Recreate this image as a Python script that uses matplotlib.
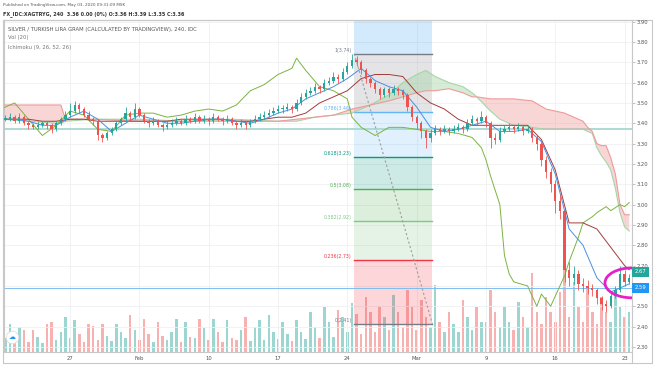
import numpy as np
import matplotlib.pyplot as plt
from matplotlib.patches import Arc, Rectangle
from matplotlib.lines import Line2D
from matplotlib.transforms import blended_transform_factory

# bars sampled 3 per trading day, Jan 20 .. Mar 23 2020 (bar index = time axis)
closes = [3.42, 3.42, 3.43, 3.41, 3.43, 3.40, 3.39, 3.38, 3.39, 3.40, 3.39, 3.37, 3.40, 3.42, 3.44,
          3.46, 3.49, 3.47, 3.44, 3.42, 3.41, 3.34, 3.33, 3.35, 3.37, 3.40, 3.42, 3.45, 3.43, 3.47,
          3.44, 3.41, 3.40, 3.41, 3.39, 3.38, 3.39, 3.40, 3.41, 3.40, 3.42, 3.41, 3.43, 3.41, 3.42,
          3.41, 3.43, 3.42, 3.41, 3.42, 3.40, 3.39, 3.40, 3.39, 3.41, 3.42, 3.43, 3.44, 3.45, 3.46,
          3.47, 3.47, 3.48, 3.47, 3.50, 3.53, 3.55, 3.56, 3.58, 3.57, 3.60, 3.61, 3.63, 3.62, 3.65,
          3.68, 3.71, 3.70, 3.66, 3.62, 3.60, 3.57, 3.54, 3.57, 3.55, 3.57, 3.56, 3.54, 3.48, 3.43,
          3.40, 3.36, 3.33, 3.35, 3.37, 3.36, 3.37, 3.36, 3.37, 3.38, 3.37, 3.40, 3.42, 3.41, 3.43,
          3.40, 3.33, 3.32, 3.36, 3.37, 3.38, 3.37, 3.38, 3.36, 3.37, 3.33, 3.30, 3.22, 3.16, 3.10,
          3.02, 2.97, 2.68, 2.64, 2.66, 2.61, 2.60, 2.59, 2.58, 2.54, 2.51, 2.50, 2.55, 2.58, 2.66, 2.62, 2.64]
highs = [3.44, 3.44, 3.45, 3.44, 3.45, 3.44, 3.41, 3.40, 3.41, 3.41, 3.41, 3.40, 3.41, 3.43, 3.46,
         3.50, 3.51, 3.50, 3.48, 3.46, 3.43, 3.42, 3.35, 3.36, 3.38, 3.41, 3.43, 3.48, 3.46, 3.50,
         3.48, 3.45, 3.42, 3.43, 3.42, 3.40, 3.41, 3.42, 3.43, 3.42, 3.44, 3.43, 3.45, 3.44, 3.44,
         3.43, 3.45, 3.44, 3.43, 3.44, 3.43, 3.41, 3.42, 3.41, 3.42, 3.44, 3.45, 3.46, 3.47, 3.48,
         3.49, 3.49, 3.50, 3.49, 3.52, 3.55, 3.57, 3.58, 3.60, 3.59, 3.62, 3.63, 3.65, 3.64, 3.67,
         3.70, 3.74, 3.73, 3.71, 3.67, 3.63, 3.61, 3.58, 3.58, 3.58, 3.59, 3.58, 3.57, 3.55, 3.49,
         3.44, 3.41, 3.37, 3.37, 3.39, 3.38, 3.39, 3.38, 3.39, 3.40, 3.39, 3.42, 3.44, 3.43, 3.46,
         3.44, 3.41, 3.35, 3.38, 3.39, 3.40, 3.39, 3.40, 3.39, 3.39, 3.38, 3.34, 3.31, 3.24, 3.18,
         3.12, 3.05, 2.98, 2.72, 2.70, 2.68, 2.64, 2.63, 2.61, 2.59, 2.55, 2.53, 2.57, 2.60, 2.70, 2.68, 2.66]
lows = [3.40, 3.41, 3.41, 3.40, 3.40, 3.39, 3.37, 3.37, 3.37, 3.38, 3.37, 3.35, 3.36, 3.39, 3.41,
        3.43, 3.45, 3.45, 3.43, 3.41, 3.39, 3.32, 3.31, 3.32, 3.34, 3.36, 3.39, 3.41, 3.41, 3.42,
        3.43, 3.40, 3.38, 3.39, 3.38, 3.36, 3.37, 3.38, 3.39, 3.39, 3.39, 3.40, 3.40, 3.40, 3.40,
        3.39, 3.40, 3.41, 3.39, 3.40, 3.39, 3.37, 3.38, 3.37, 3.38, 3.40, 3.41, 3.42, 3.43, 3.44,
        3.45, 3.45, 3.46, 3.45, 3.46, 3.49, 3.52, 3.54, 3.55, 3.55, 3.56, 3.59, 3.60, 3.60, 3.61,
        3.64, 3.67, 3.68, 3.64, 3.60, 3.58, 3.55, 3.52, 3.53, 3.53, 3.54, 3.54, 3.52, 3.46, 3.41,
        3.37, 3.33, 3.28, 3.31, 3.34, 3.34, 3.35, 3.34, 3.35, 3.36, 3.35, 3.36, 3.39, 3.39, 3.40,
        3.38, 3.28, 3.30, 3.31, 3.35, 3.36, 3.35, 3.36, 3.34, 3.35, 3.31, 3.27, 3.19, 3.13, 3.06,
        2.96, 2.93, 2.62, 2.60, 2.61, 2.58, 2.57, 2.56, 2.55, 2.51, 2.48, 2.47, 2.49, 2.54, 2.57, 2.60, 2.61]
volume = [10, 14, 28, 12, 25, 22, 10, 22, 15, 9, 28, 30, 12, 20, 35,
          14, 32, 18, 10, 28, 26, 12, 28, 16, 11, 28, 20, 14, 37, 22,
          12, 33, 18, 10, 30, 16, 12, 20, 33, 10, 30, 15, 14, 33, 24,
          12, 33, 20, 10, 32, 14, 12, 22, 35, 11, 25, 32, 12, 37, 20,
          13, 30, 18, 11, 32, 20, 13, 40, 25, 14, 45, 30, 15, 42, 35,
          20, 49, 38, 18, 55, 40, 20, 45, 35, 22, 57, 40, 25, 62, 45,
          22, 52, 35, 25, 67, 30, 20, 40, 28, 20, 52, 35, 22, 45, 30,
          30, 62, 40, 25, 45, 30, 22, 50, 35, 25, 79, 40, 28, 55, 40,
          30, 60, 89, 35, 70, 45, 30, 65, 40, 28, 55, 40, 30, 62, 45, 35, 40]

week_ticks = [15, 30, 45, 60, 75, 90, 105, 120, 135]
week_labels = ['27', 'Feb', '10', '17', '24', 'Mar', '9', '16', '23']

# Ichimoku (9, 26, 52, 26)
ind_idx = list(range(0, 136, 3)) + [136]
conversion = [3.42, 3.42, 3.41, 3.39, 3.39, 3.43, 3.46, 3.42, 3.36, 3.40,
              3.44, 3.42, 3.40, 3.40, 3.41, 3.42, 3.42, 3.41, 3.40, 3.42,
              3.45, 3.47, 3.52, 3.55, 3.58, 3.62, 3.67, 3.61, 3.58, 3.56,
              3.48, 3.38, 3.36, 3.37, 3.39, 3.41, 3.36, 3.36, 3.37, 3.31,
              3.15, 2.88, 2.80, 2.64, 2.57, 2.60, 2.61]
base = [3.42, 3.42, 3.42, 3.41, 3.41, 3.42, 3.42, 3.41, 3.41, 3.41,
        3.41, 3.41, 3.41, 3.42, 3.42, 3.42, 3.42, 3.41, 3.41, 3.42,
        3.43, 3.43, 3.45, 3.50, 3.53, 3.56, 3.62, 3.64, 3.64, 3.63,
        3.55, 3.50, 3.47, 3.42, 3.39, 3.39, 3.39, 3.39, 3.39, 3.32,
        3.17, 2.91, 2.91, 2.88, 2.79, 2.70, 2.68]
lag_idx = [0, 3, 6, 9, 12, 15, 18, 21, 24, 27, 30, 33, 36, 39, 42, 45, 48, 51, 54, 57,
           60, 63, 64, 66, 69, 72, 75, 76, 78, 81, 84, 87, 90, 93, 96, 99, 102, 104, 105, 106,
           108, 109, 110, 111, 114, 116, 117, 119, 120, 122, 123, 125, 126, 128, 129, 131, 132, 134, 135, 136]
lagging = [3.47, 3.50, 3.42, 3.34, 3.39, 3.46, 3.44, 3.37, 3.36, 3.44, 3.45, 3.45, 3.43, 3.44, 3.46,
           3.47, 3.46, 3.49, 3.56, 3.59, 3.64, 3.67, 3.72, 3.66, 3.58, 3.56, 3.52, 3.43, 3.38, 3.34,
           3.38, 3.38, 3.37, 3.36, 3.36, 3.35, 3.33, 3.28, 3.22, 3.14, 3.00, 2.75, 2.66, 2.62, 2.60,
           2.50, 2.56, 2.50, 2.55, 2.65, 2.72, 2.84, 2.91, 2.94, 2.96, 2.99, 2.97, 3.00, 2.99, 3.01]
span_idx = [0, 6, 12, 13, 14, 20, 30, 40, 50, 60, 64, 68, 72, 76, 80, 84, 87, 90, 92, 94, 97, 100,
            102, 103, 106, 108, 110, 111, 115, 118, 120, 122, 125, 126, 127, 128, 129, 130, 131, 132,
            133, 134, 135, 136]
span_a = [3.42, 3.41, 3.40, 3.40, 3.41, 3.42, 3.42, 3.41, 3.42, 3.41, 3.41, 3.43, 3.44, 3.45, 3.49,
          3.54, 3.60, 3.64, 3.66, 3.63, 3.60, 3.58, 3.55, 3.53, 3.46, 3.42, 3.40, 3.39, 3.38, 3.37,
          3.37, 3.37, 3.37, 3.37, 3.36, 3.35, 3.28, 3.24, 3.21, 3.17, 3.08, 2.96, 2.89, 2.87]
span_b = [3.49, 3.49, 3.49, 3.49, 3.42, 3.42, 3.41, 3.41, 3.41, 3.41, 3.42, 3.43, 3.44, 3.47, 3.49,
          3.51, 3.53, 3.55, 3.56, 3.56, 3.57, 3.55, 3.53, 3.53, 3.52, 3.52, 3.52, 3.52, 3.51, 3.47,
          3.46, 3.45, 3.42, 3.41, 3.38, 3.36, 3.30, 3.29, 3.29, 3.23, 3.15, 3.00, 2.95, 2.95]

# fibonacci retracement drawing
fib_bars = [76.5, 93.4]
fib_prices = [3.742, 2.414]
fib_levels = [0, 0.236, 0.382, 0.5, 0.618, 0.786, 1, 1.618]
fib_labels = ['0(2.41)', '0.236(2.73)', '0.382(2.92)', '0.5(3.08)', '0.618(3.23)', '0.786(3.46)', '1(3.74)', '']
fib_colors = ['#787b86', '#f23645', '#81c784', '#4caf50', '#089981', '#64b5f6', '#787b86', '#2196f3']

W, H = 654, 366
fig = plt.figure(figsize=(W / 100, H / 100), dpi=100)
ax = fig.add_axes([4 / W, 1 - 352 / H, 628 / W, 332 / H])
axv = ax.twinx()
ax.set_zorder(2)
ax.patch.set_visible(False)
axv.set_zorder(1)

x = np.arange(len(closes))
c = np.array(closes)
opens = np.array([closes[0]] + closes[:-1])  # forex bars open at prior close
col = np.where(c >= opens, '#26a69a', '#ef5350')

# volume overlay
axv.bar(x, volume, width=0.55, color=col, alpha=0.45, lw=0)
axv.set_ylim(0, 332)
axv.set_axis_off()

# fib fills / levels
fx0, fx1 = fib_bars
hi, lo = fib_prices
fp = [lo + l * (hi - lo) for l in fib_levels]
for k in range(1, len(fib_levels)):
    ax.fill_between([fx0, fx1], fp[k - 1], fp[k], color=fib_colors[k], alpha=0.2, lw=0, zorder=1)
for k in range(len(fib_levels) - 1):
    ax.plot([fx0, fx1], [fp[k], fp[k]], color=fib_colors[k], lw=1, zorder=2)
    ax.text(fx0 - 0.5, fp[k] + 0.003, fib_labels[k], ha='right', va='bottom',
            color=fib_colors[k], fontsize=3.4, zorder=9)
ax.plot([fx0, fx1], [hi, lo], ls=(0, (2, 2)), color='#9e9e9e', lw=0.8, zorder=6)

# horizontal lines
ax.axhline(3.37, color='#a7d8d0', lw=1.3, zorder=2)
ax.axhline(2.59, color='#7fbdf2', lw=0.7, zorder=2)

# ichimoku
sa, sb = np.array(span_a), np.array(span_b)
ax.fill_between(span_idx, sa, sb, where=sa >= sb, interpolate=True, color='#a5d6a7', alpha=0.45, lw=0, zorder=2)
ax.fill_between(span_idx, sa, sb, where=sa < sb, interpolate=True, color='#ef9a9a', alpha=0.4, lw=0, zorder=2)
ax.plot(span_idx, span_a, color='#a5d6a7', lw=0.8, zorder=3)
ax.plot(span_idx, span_b, color='#ef9a9a', lw=0.8, zorder=3)
ax.plot(lag_idx, lagging, color='#7cb342', lw=0.7, zorder=3)
ax.plot(ind_idx, base, color='#a33b3b', lw=0.7, zorder=3)
ax.plot(ind_idx, conversion, color='#4a90e2', lw=0.7, zorder=3)

# candles
ax.vlines(x, lows, highs, colors=col, lw=0.6, zorder=4)
ax.bar(x, np.maximum(np.abs(c - opens), 0.004), bottom=np.minimum(c, opens),
       width=0.5, color=col, lw=0, zorder=5)

# magenta hand drawing round the last bars
ax.add_patch(Arc((136.6, 2.615), 11.7, 0.147, theta1=85, theta2=275,
                 color='#e620c8', lw=2, zorder=8, clip_on=False))

ax.set_xlim(0.7, 136.6)
ax.set_ylim(2.275, 3.908)
ax.set_xticks(week_ticks)
ax.set_xticklabels(week_labels)
price_ticks = np.round(np.arange(2.3, 3.95, 0.1), 2)
ax.set_yticks(price_ticks)
# 2.60 sits under the 2.59 marker in the reference
ax.set_yticklabels(['' if abs(p - 2.6) < 1e-6 else '%.2f' % p for p in price_ticks])
ax.yaxis.tick_right()
ax.tick_params(axis='y', length=2, width=0.5, color='#aaaaaa', labelsize=3.8, labelcolor='#555555', pad=1.5)
ax.tick_params(axis='x', length=0, labelsize=3.8, labelcolor='#555555', pad=3)
ax.grid(color='#eef0f3', lw=0.6, zorder=0)
ax.set_axisbelow(True)
for s in ax.spines.values():
    s.set_color('#c8c8c8')
    s.set_linewidth(0.8)

# axis value markers
tr = blended_transform_factory(ax.transAxes, ax.transData)
ax.text(1.004, 2.67, '2.67', transform=tr, ha='left', va='center', fontsize=3.8, color='white',
        bbox=dict(boxstyle='square,pad=0.5', fc='#26a69a', ec='none'), zorder=10, clip_on=False)
ax.text(1.004, 2.59, '2.59', transform=tr, ha='left', va='center', fontsize=3.8, color='white',
        bbox=dict(boxstyle='square,pad=0.5', fc='#2196f3', ec='none'), zorder=10, clip_on=False)

# frame
fig.add_artist(Rectangle((3 / W, 3 / H), 649 / W, 343 / H, transform=fig.transFigure,
                         fill=False, ec='#c8c8c8', lw=0.8))
fig.add_artist(Line2D([632 / W, 632 / W], [3 / H, 14 / H], color='#c8c8c8', lw=0.8))

# texts
fig.text(3 / W, 1 - 5 / H, 'Published on TradingView.com, May 03, 2020 09:31:09 MSK',
         fontsize=3.0, color='#555555', va='center')
fig.text(3 / W, 1 - 14 / H, 'FX_IDC:XAGTRYG, 240  3.36 0.00 (0%) O:3.36 H:3.39 L:3.35 C:3.36',
         fontsize=3.5, color='#333333', va='center', fontweight='bold')
fig.text(8 / W, 1 - 29 / H, 'SILVER / TURKISH LIRA GRAM (CALCULATED BY TRADINGVIEW), 240, IDC',
         fontsize=3.8, color='#555555', va='center')
fig.text(8 / W, 1 - 38 / H, 'Vol (20)', fontsize=3.8, color='#777777', va='center')
fig.text(8 / W, 1 - 47 / H, 'Ichimoku (9, 26, 52, 26)', fontsize=3.8, color='#777777', va='center')

# cloud badge
fig.add_artist(Line2D([12 / W], [1 - 337 / H], marker='o', ms=9, mfc='white', mec='#dddddd', mew=0.6))
fig.text(12 / W, 1 - 337 / H, '\u2601', color='#2196f3', fontsize=5, ha='center', va='center')

fig.savefig('out.png', dpi=100)
